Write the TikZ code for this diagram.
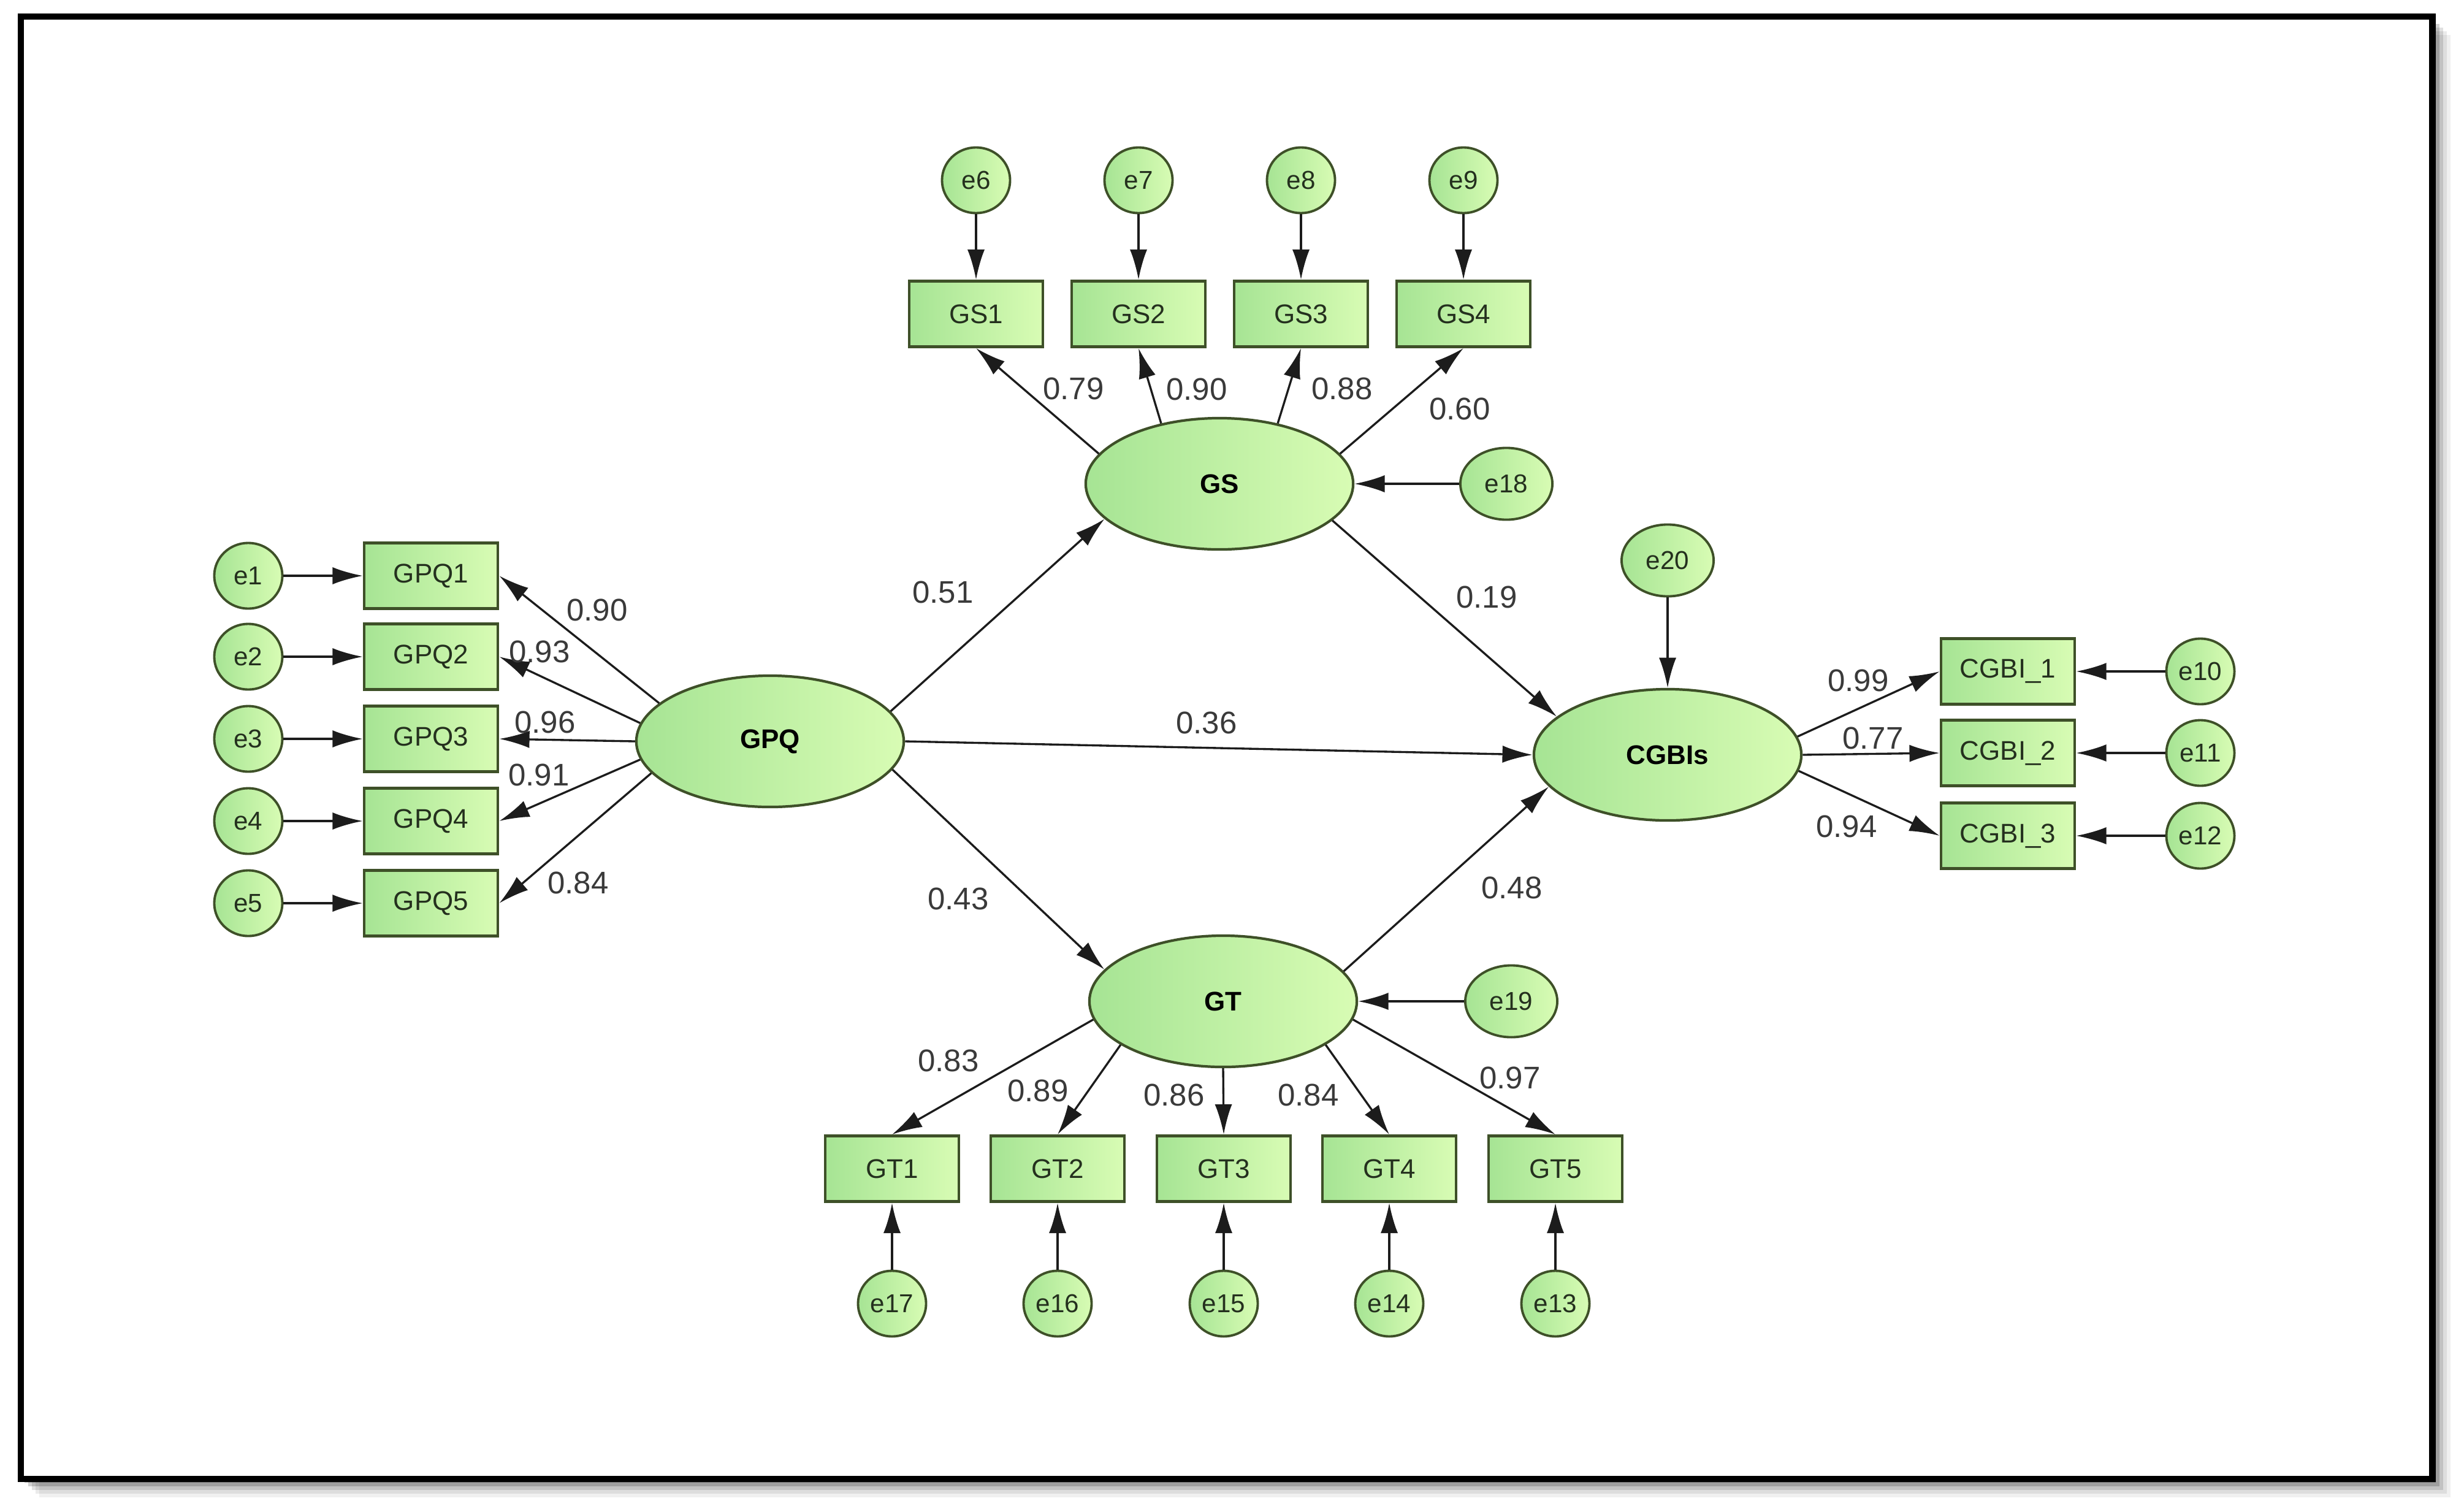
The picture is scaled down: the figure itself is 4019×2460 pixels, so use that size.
\documentclass[tikz,border=0pt]{standalone}
\usepackage{fontspec}
\setmainfont{Liberation Sans}
\usetikzlibrary{arrows.meta,shapes.geometric}
\definecolor{gL}{RGB}{166,228,148}
\definecolor{gR}{RGB}{216,252,180}
\definecolor{edgec}{RGB}{62,80,40}
\definecolor{lnc}{RGB}{28,28,28}
\definecolor{txtc}{RGB}{36,48,30}
\definecolor{numc}{RGB}{58,58,58}
\begin{document}
\begin{tikzpicture}[x=0.01cm,y=-0.01cm,
  obs/.style={rectangle,draw=edgec,line width=1.3pt,left color=gL,right color=gR,minimum width=2.18cm,minimum height=1.07cm,inner sep=0pt,font=\fontsize{12.5}{15}\selectfont,text=txtc},
  err/.style={ellipse,draw=edgec,line width=1.1pt,left color=gL,right color=gR,minimum width=1.11cm,minimum height=1.07cm,inner sep=0pt,font=\fontsize{12}{14}\selectfont,text=txtc},
  errw/.style={err,minimum width=1.5cm,minimum height=1.17cm},
  lat/.style={ellipse,draw=edgec,line width=1.2pt,left color=gL,right color=gR,minimum width=4.36cm,minimum height=2.14cm,inner sep=0pt,font=\bfseries\fontsize{12.5}{15}\selectfont,text=black},
  arr/.style={draw=lnc,line width=0.95pt,-{Latex[length=14pt,width=8pt]}},
  coef/.style={font=\fontsize{14.5}{17}\selectfont,text=numc,inner sep=0pt}
]
\useasboundingbox (0,0) rectangle (4019,2460);
% frame with shadow
\foreach \d/\o in {30/0.06,24/0.08,18/0.12,12/0.18,6/0.25}
  \fill[black,opacity=\o] (34+\d,27+\d) rectangle (3967+\d,2412+\d);
\fill[white] (34,27) rectangle (3967,2412);
\draw[line width=3.1pt] (34,27) rectangle (3967,2412);

% latent variables
\node[lat] (GPQ) at (1256,1209) {GPQ};
\node[lat] (GS) at (1989,789) {GS};
\node[lat] (GT) at (1995,1633) {GT};
\node[lat] (CGBIs) at (2720,1231) {CGBIs};

% GPQ indicators
\foreach \i/\y in {1/939,2/1071,3/1205,4/1339,5/1473}{
  \node[err] (e\i) at (405,\y) {e\i};
  \node[obs] (GPQ\i) at (703,\y) {GPQ\i};
  \draw[arr] (e\i) -- (GPQ\i);
}
% GS indicators
\node[obs] (GS1) at (1592,512) {GS1};
\node[obs] (GS2) at (1857,512) {GS2};
\node[obs] (GS3) at (2122,512) {GS3};
\node[obs] (GS4) at (2387,512) {GS4};
\node[err] (e6) at (1592,294) {e6};
\node[err] (e7) at (1857,294) {e7};
\node[err] (e8) at (2122,294) {e8};
\node[err] (e9) at (2387,294) {e9};
\node[errw] (e18) at (2457,789) {e18};
% CGBIs indicators
\node[obs] (CGBI1) at (3275,1095) {CGBI\_1};
\node[obs] (CGBI2) at (3275,1228) {CGBI\_2};
\node[obs] (CGBI3) at (3275,1363) {CGBI\_3};
\node[err] (e10) at (3589,1095) {e10};
\node[err] (e11) at (3589,1228) {e11};
\node[err] (e12) at (3589,1363) {e12};
\node[errw] (e20) at (2720,914) {e20};
% GT indicators
\node[obs] (GT1) at (1455,1906) {GT1};
\node[obs] (GT2) at (1725,1906) {GT2};
\node[obs] (GT3) at (1996,1906) {GT3};
\node[obs] (GT4) at (2266,1906) {GT4};
\node[obs] (GT5) at (2537,1906) {GT5};
\node[err] (e17) at (1455,2126) {e17};
\node[err] (e16) at (1725,2126) {e16};
\node[err] (e15) at (1996,2126) {e15};
\node[err] (e14) at (2266,2126) {e14};
\node[err] (e13) at (2537,2126) {e13};
\node[errw] (e19) at (2465,1633) {e19};

% loadings GPQ
\draw[arr] (GPQ.161) -- (GPQ1.east);
\draw[arr] (GPQ.172) -- (GPQ2.east);
\draw[arr] (GPQ.180) -- (GPQ3.east);
\draw[arr] (GPQ.188) -- (GPQ4.east);
\draw[arr] (GPQ.195) -- (GPQ5.east);
% loadings GS
\draw[arr] (GS.166) -- (GS1.south);
\draw[arr] (GS.134) -- (GS2.south);
\draw[arr] (GS.46) -- (GS3.south);
\draw[arr] (GS.14) -- (GS4.south);
\draw[arr] (e6) -- (GS1);
\draw[arr] (e7) -- (GS2);
\draw[arr] (e8) -- (GS3);
\draw[arr] (e9) -- (GS4);
\draw[arr] (e18) -- (GS);
% loadings CGBIs
\draw[arr] (CGBIs.8) -- (CGBI1.west);
\draw[arr] (CGBIs.east) -- (CGBI2.west);
\draw[arr] (CGBIs.-7) -- (CGBI3.west);
\draw[arr] (e10) -- (CGBI1);
\draw[arr] (e11) -- (CGBI2);
\draw[arr] (e12) -- (CGBI3);
\draw[arr] (e20) -- (CGBIs);
% loadings GT
\draw[arr] (GT.188) -- (GT1.north);
\draw[arr] (GT.203) -- (GT2.north);
\draw[arr] (GT.south) -- (GT3.north);
\draw[arr] (GT.-23) -- (GT4.north);
\draw[arr] (GT.-8) -- (GT5.north);
\draw[arr] (e17) -- (GT1);
\draw[arr] (e16) -- (GT2);
\draw[arr] (e15) -- (GT3);
\draw[arr] (e14) -- (GT4);
\draw[arr] (e13) -- (GT5);
\draw[arr] (e19) -- (GT);
% structural paths
\draw[arr] (GPQ.14) -- (GS.197);
\draw[arr] (GPQ.-13) -- (GT.165);
\draw[arr] (GPQ.east) -- (CGBIs.west);
\draw[arr] (GS.-18) -- (CGBIs.161);
\draw[arr] (GT.14) -- (CGBIs.195);

% coefficients
\node[coef] (c1) at (974,995) {0.90};
\node[coef] (c2) at (880,1063) {0.93};
\node[coef] (c3) at (889,1178) {0.96};
\node[coef] (c4) at (879,1264) {0.91};
\node[coef] (c5) at (943,1440) {0.84};
\node[coef] (c6) at (1751,634) {0.79};
\node[coef] (c7) at (1952,635) {0.90};
\node[coef] (c8) at (2189,634) {0.88};
\node[coef] (c9) at (2381,667) {0.60};
\node[coef] (c10) at (1538,966) {0.51};
\node[coef] (c11) at (1563,1466) {0.43};
\node[coef] (c12) at (1968,1179) {0.36};
\node[coef] (c13) at (2425,974) {0.19};
\node[coef] (c14) at (2466,1448) {0.48};
\node[coef] (c15) at (3031,1110) {0.99};
\node[coef] (c16) at (3055,1204) {0.77};
\node[coef] (c17) at (3012,1348) {0.94};
\node[coef] (c18) at (1547,1730) {0.83};
\node[coef] (c19) at (1693,1779) {0.89};
\node[coef] (c20) at (1915,1786) {0.86};
\node[coef] (c21) at (2134,1786) {0.84};
\node[coef] (c22) at (2463,1758) {0.97};
\end{tikzpicture}
\end{document}
